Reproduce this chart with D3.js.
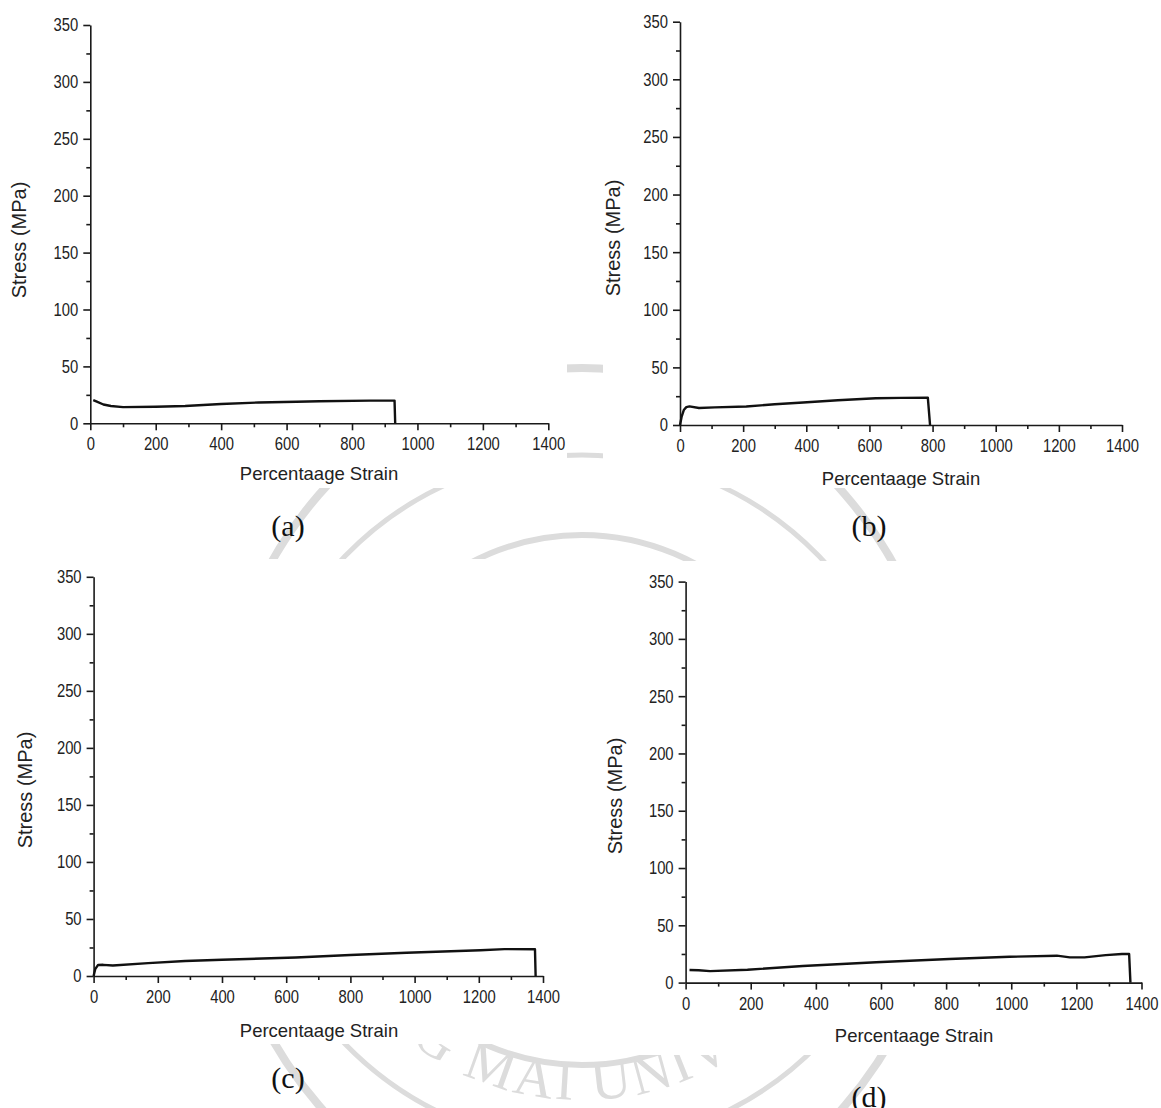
<!DOCTYPE html>
<html>
<head>
<meta charset="utf-8">
<script src="https://cdn.jsdelivr.net/npm/d3@7"></script>
<style>
  body { margin: 0; background: #fff; }
  svg text { font-family: "Liberation Sans", Arial, sans-serif; }
</style>
</head>
<body>
<div id="figure"></div>
<script>
// Values (strain in %, stress in MPa)
const strainA = [9, 20, 40, 63, 100, 200, 290, 400, 515, 630, 700, 855, 930, 932];
const stressA = [20.3, 19, 16.5, 15.2, 14.2, 14.6, 15.2, 17, 18.3, 19, 19.4, 19.9, 19.9, 0];

const strainB = [0, 5, 12, 20, 30, 60, 110, 210, 300, 390, 500, 620, 700, 785, 792];
const stressB = [0, 7, 13, 15.5, 16.2, 14.8, 15.3, 16, 18, 19.5, 21.5, 23.2, 23.5, 23.8, 0];

const strainC = [0, 5, 14, 30, 60, 170, 285, 400, 630, 800, 975, 1205, 1280, 1375, 1377];
const stressC = [0, 6, 9.7, 9.8, 9.2, 11.3, 13.2, 14.2, 16.2, 18.4, 20.4, 22.6, 23.6, 23.4, 0];

const strainD = [12, 40, 75, 190, 360, 585, 810, 995, 1140, 1180, 1225, 1290, 1340, 1362, 1366];
const stressD = [11, 10.8, 10, 11.2, 14.5, 17.7, 20.6, 22.5, 23.5, 22, 22, 24, 25, 25, 0];

const xTicks = [0, 200, 400, 600, 800, 1000, 1200, 1400];
const xMinorTicks = [100, 300, 500, 700, 900, 1100, 1300];
const yTicks = [0, 50, 100, 150, 200, 250, 300, 350];
const yMinorTicks = [25, 75, 125, 175, 225, 275, 325];

const captions = ["(a)", "(b)", "(c)", "(d)"];
const xTitle = "Percentaage Strain";
const yTitle = "Stress (MPa)";
const sealText = "CHIANG MAI UNIVERSITY";

// Where each sub-figure sits on the page
const width = 1161, height = 1108;
const layout = [
  {box: [0, 0, 567, 488], left: 90.3, right: 548.3, top: 25, bottom: 423.3, yT: [26, 240], xT: [319, 480], cap: [288, 536]},
  {box: [603, 0, 558, 488], left: 680, right: 1122, top: 21.7, bottom: 425, yT: [619.5, 238], xT: [901, 485], cap: [869, 536]},
  {box: [0, 559, 563, 485], left: 93.6, right: 543, top: 576.8, bottom: 976, yT: [32, 790], xT: [319, 1037], cap: [288, 1088]},
  {box: [603, 561, 558, 494], left: 685.6, right: 1141.5, top: 581.6, bottom: 982.6, yT: [622, 796], xT: [914, 1042], cap: [869, 1107]}
];
const series = [[strainA, stressA], [strainB, stressB], [strainC, stressC], [strainD, stressD]];

const inkColour = "#1a1a1a";
const sealColour = "#dcdcdc";
const tickFont = 18.5, tickSqueeze = 0.8;

const svg = d3.select("#figure")
  .append("svg")
  .attr("width", width)
  .attr("height", height);

svg.append("rect").attr("width", width).attr("height", height).attr("fill", "#fff");

drawSeal();
layout.forEach((p, i) => drawPanel(p, series[i], captions[i], i));

// Faint university seal showing through the gaps between the plots
function drawSeal() {
  const cx = 582, cy = 800;
  const g = svg.append("g");
  [[372, 432, 8], [335, 345, 5], [250, 265, 6]].forEach(([rx, ry, w]) => {
    g.append("ellipse")
      .attr("cx", cx).attr("cy", cy)
      .attr("rx", rx).attr("ry", ry)
      .attr("fill", "none")
      .attr("stroke", sealColour)
      .attr("stroke-width", w);
  });

  // text runs along the lower arc, left to right
  const rx = 292, ry = 300;
  const a0 = 170 * Math.PI / 180, a1 = 10 * Math.PI / 180;
  const arc = `M${cx + rx * Math.cos(a0)},${cy + ry * Math.sin(a0)} A${rx},${ry} 0 0 0 ${cx + rx * Math.cos(a1)},${cy + ry * Math.sin(a1)}`;
  g.append("path").attr("id", "sealArc").attr("d", arc).attr("fill", "none");
  g.append("text")
    .style("font-family", "'Liberation Serif', 'Times New Roman', serif")
    .style("font-size", "56px")
    .attr("fill", sealColour)
    .attr("letter-spacing", 3)
    .append("textPath")
    .attr("href", "#sealArc")
    .attr("startOffset", "50%")
    .attr("text-anchor", "middle")
    .text(sealText);
}

function drawPanel(p, data, caption, i) {
  const [bx, by, bw, bh] = p.box;
  svg.append("clipPath").attr("id", "clip" + i)
    .append("rect").attr("x", bx).attr("y", by).attr("width", bw).attr("height", bh);

  const g = svg.append("g").attr("clip-path", `url(#clip${i})`);
  g.append("rect").attr("x", bx).attr("y", by).attr("width", bw).attr("height", bh).attr("fill", "#fff");

  const x = d3.scaleLinear().domain([0, 1400]).range([p.left, p.right]);
  const y = d3.scaleLinear().domain([0, 350]).range([p.bottom, p.top]);

  // minor ticks first, then the labelled axes over them
  g.append("g")
    .attr("transform", `translate(0,${p.bottom})`)
    .call(d3.axisBottom(x).tickValues(xMinorTicks).tickSize(4).tickFormat("").tickSizeOuter(0))
    .call(s => s.select(".domain").remove());
  g.append("g")
    .attr("transform", `translate(${p.left},0)`)
    .call(d3.axisLeft(y).tickValues(yMinorTicks).tickSize(4).tickFormat("").tickSizeOuter(0))
    .call(s => s.select(".domain").remove());

  const xAxis = g.append("g")
    .attr("transform", `translate(0,${p.bottom})`)
    .call(d3.axisBottom(x).tickValues(xTicks).tickFormat(d3.format("d"))
      .tickSize(7).tickPadding(7).tickSizeOuter(0));
  const yAxis = g.append("g")
    .attr("transform", `translate(${p.left},0)`)
    .call(d3.axisLeft(y).tickValues(yTicks).tickFormat(d3.format("d"))
      .tickSize(7).tickPadding(5).tickSizeOuter(0));

  g.selectAll(".domain, .tick line")
    .attr("stroke", inkColour)
    .attr("stroke-width", 1.6);

  // tick labels are a narrow face: squeeze a normal sans horizontally
  [xAxis, yAxis].forEach(ax => ax.selectAll("text")
    .style("font-size", tickFont + "px")
    .attr("fill", "#222")
    .attr("transform", `scale(${tickSqueeze},1)`));
  yAxis.selectAll("text").attr("x", -12 / tickSqueeze);

  const line = d3.line()
    .x((d, k) => x(data[0][k]))
    .y(d => y(d));
  g.append("path")
    .datum(data[1])
    .attr("d", line)
    .attr("fill", "none")
    .attr("stroke", "#111")
    .attr("stroke-width", 2.4)
    .attr("stroke-linejoin", "round");

  g.append("text")
    .attr("transform", `translate(${p.yT[0]},${p.yT[1]}) rotate(-90)`)
    .attr("text-anchor", "middle")
    .style("font-size", "20px")
    .attr("fill", "#222")
    .text(yTitle);

  g.append("text")
    .attr("x", p.xT[0]).attr("y", p.xT[1])
    .attr("text-anchor", "middle")
    .style("font-size", "18.5px")
    .attr("fill", "#222")
    .text(xTitle);

  svg.append("text")
    .attr("x", p.cap[0]).attr("y", p.cap[1])
    .attr("text-anchor", "middle")
    .style("font-family", "'Liberation Serif', 'Times New Roman', serif")
    .style("font-size", "30px")
    .attr("fill", "#111")
    .text(caption);
}
</script>
</body>
</html>
